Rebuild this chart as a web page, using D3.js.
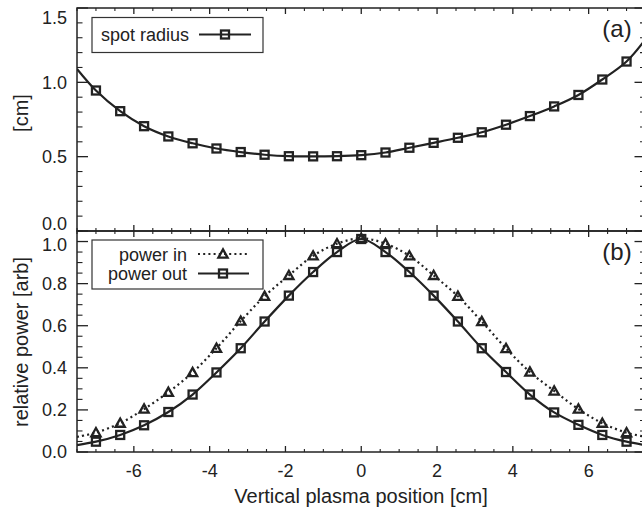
<!DOCTYPE html>
<html>
<head>
<meta charset="utf-8">
<script src="https://cdn.jsdelivr.net/npm/d3@7"></script>
<style>
  html, body { margin: 0; padding: 0; background: #fff; }
  svg { display: block; }
  text { font-family: "Liberation Sans", Arial, Helvetica, sans-serif; fill: #222; }
</style>
</head>
<body>
<svg id="chart" width="642" height="510"></svg>
<script>
// ---------------- data ----------------
const positions = [-7.00, -6.36, -5.73, -5.09, -4.45, -3.82, -3.18, -2.55, -1.91, -1.27, -0.64, 0.00,
                   0.64, 1.27, 1.91, 2.55, 3.18, 3.82, 4.45, 5.09, 5.73, 6.36, 7.00];
const spotRadius = [0.945, 0.806, 0.705, 0.636, 0.590, 0.555, 0.531, 0.513, 0.503, 0.502, 0.503, 0.510,
                    0.528, 0.560, 0.593, 0.627, 0.664, 0.715, 0.773, 0.838, 0.915, 1.019, 1.140];
const powerIn  = [0.092, 0.137, 0.204, 0.284, 0.378, 0.493, 0.622, 0.740, 0.839, 0.932, 0.990, 1.015,
                  0.990, 0.932, 0.839, 0.740, 0.620, 0.492, 0.380, 0.290, 0.204, 0.137, 0.092];
const powerOut = [0.049, 0.081, 0.127, 0.190, 0.273, 0.378, 0.493, 0.620, 0.743, 0.855, 0.950, 1.012,
                  0.950, 0.855, 0.743, 0.620, 0.493, 0.380, 0.273, 0.188, 0.129, 0.081, 0.049];
// curve values where the fitted lines meet the plot edges (x = -7.5 and 7.5)
const edgeX = [-7.5, 7.5];
const spotEdge = [1.09, 1.29];
const powerInEdge = [0.072, 0.072];
const powerOutEdge = [0.033, 0.033];

const xTicks = [-6, -4, -2, 0, 2, 4, 6];
const xTickLabels = ["-6", "-4", "-2", "0", "2", "4", "6"];
const topYTicks = [0, 0.5, 1.0, 1.5];
const topYLabels = ["0.0", "0.5", "1.0", "1.5"];
const botYTicks = [0, 0.2, 0.4, 0.6, 0.8, 1.0];
const botYLabels = ["0.0", "0.2", "0.4", "0.6", "0.8", "1.0"];

// ---------------- layout ----------------
const svg = d3.select("#chart");
const ink = "#222";
const L = 77, R = 645.5;
const topPanel = {top: 8, bottom: 231};
const botPanel = {top: 231, bottom: 452};

const x = d3.scaleLinear().domain([-7.5, 7.5]).range([L, R]);
const yTop = d3.scaleLinear().domain([0, 1.5]).range([topPanel.bottom, topPanel.top]);
const yBot = d3.scaleLinear().domain([0, 1.05]).range([botPanel.bottom, botPanel.top]);

svg.append("rect").attr("width", 642).attr("height", 510).attr("fill", "#fff");

const defs = svg.append("defs");
defs.append("clipPath").attr("id", "clipTop").append("rect")
  .attr("x", L).attr("y", topPanel.top).attr("width", R - L).attr("height", topPanel.bottom - topPanel.top);
defs.append("clipPath").attr("id", "clipBot").append("rect")
  .attr("x", L).attr("y", botPanel.top).attr("width", R - L).attr("height", botPanel.bottom - botPanel.top);

function withEdges(vals, edges) {
  const pts = positions.map((p, i) => [p, vals[i]]);
  return [[edgeX[0], edges[0]], ...pts, [edgeX[1], edges[1]]];
}

const xMinor = d3.range(-7.5, 7.51, 0.5).filter(v => !xTicks.some(t => Math.abs(t - v) < 1e-6));

// draw frame & ticks for a panel
function drawPanel(y, panel, yMajor, yMinorStep, yLabels, showX, labelShift) {
  const g = svg.append("g");
  const xMajLen = 6, xMinLen = 3, yMajLen = 11, yMinLen = 5.5;
  xTicks.forEach(t => {
    g.append("line").attr("x1", x(t)).attr("x2", x(t)).attr("y1", panel.bottom).attr("y2", panel.bottom - xMajLen)
      .attr("stroke", ink).attr("stroke-width", 1.3);
    g.append("line").attr("x1", x(t)).attr("x2", x(t)).attr("y1", panel.top).attr("y2", panel.top + xMajLen)
      .attr("stroke", ink).attr("stroke-width", 1.3);
  });
  xMinor.forEach(t => {
    g.append("line").attr("x1", x(t)).attr("x2", x(t)).attr("y1", panel.bottom).attr("y2", panel.bottom - xMinLen)
      .attr("stroke", ink).attr("stroke-width", 1.1);
    g.append("line").attr("x1", x(t)).attr("x2", x(t)).attr("y1", panel.top).attr("y2", panel.top + xMinLen)
      .attr("stroke", ink).attr("stroke-width", 1.1);
  });
  const [d0, d1] = y.domain();
  const minors = d3.range(d0, d1 + 1e-6, yMinorStep).filter(v => !yMajor.some(t => Math.abs(t - v) < 1e-6));
  yMajor.forEach(t => {
    g.append("line").attr("x1", L).attr("x2", L + yMajLen).attr("y1", y(t)).attr("y2", y(t))
      .attr("stroke", ink).attr("stroke-width", 1.3);
    g.append("line").attr("x1", R).attr("x2", R - yMajLen).attr("y1", y(t)).attr("y2", y(t))
      .attr("stroke", ink).attr("stroke-width", 1.3);
  });
  minors.forEach(t => {
    g.append("line").attr("x1", L).attr("x2", L + yMinLen).attr("y1", y(t)).attr("y2", y(t))
      .attr("stroke", ink).attr("stroke-width", 1.1);
    g.append("line").attr("x1", R).attr("x2", R - yMinLen).attr("y1", y(t)).attr("y2", y(t))
      .attr("stroke", ink).attr("stroke-width", 1.1);
  });
  g.append("rect").attr("x", L).attr("y", panel.top).attr("width", R - L).attr("height", panel.bottom - panel.top)
    .attr("fill", "none").attr("stroke", ink).attr("stroke-width", 1.5);
  yMajor.forEach((t, i) => {
    g.append("text").attr("x", 67).attr("y", y(t) + (labelShift[i] || 0)).attr("dy", "0.36em")
      .attr("text-anchor", "end").style("font-size", "18px").text(yLabels[i]);
  });
  if (showX) {
    xTicks.forEach((t, i) => {
      g.append("text").attr("x", x(t)).attr("y", 477).attr("text-anchor", "middle")
        .style("font-size", "18px").text(xTickLabels[i]);
    });
  }
}

drawPanel(yTop, topPanel, topYTicks, 0.1, topYLabels, false, [-7, 0, 0, 10]);
drawPanel(yBot, botPanel, botYTicks, 0.05, botYLabels, true, [0, 0, 0, 0, 0, 2.5]);

// ---------------- marks ----------------
const sqSize = 8;
function squares(g, xs, ys) {
  g.selectAll(null).data(xs).enter().append("rect")
    .attr("x", (d, i) => xs[i] - sqSize / 2).attr("y", (d, i) => ys[i] - sqSize / 2)
    .attr("width", sqSize).attr("height", sqSize)
    .attr("fill", "none").attr("stroke", ink).attr("stroke-width", 2.3);
}
const triPath = "M-4.6,3.6L0,-4.6L4.6,3.6Z";
function triangles(g, xs, ys) {
  g.selectAll(null).data(xs).enter().append("path")
    .attr("d", triPath).attr("transform", (d, i) => `translate(${xs[i]},${ys[i]})`)
    .attr("fill", "none").attr("stroke", ink).attr("stroke-width", 2.3).attr("stroke-linejoin", "miter");
}

const gTop = svg.append("g").attr("clip-path", "url(#clipTop)");
const lineTop = d3.line().x(d => x(d[0])).y(d => yTop(d[1])).curve(d3.curveCatmullRom.alpha(0.5));
gTop.append("path").attr("d", lineTop(withEdges(spotRadius, spotEdge)))
  .attr("fill", "none").attr("stroke", ink).attr("stroke-width", 2.2);
squares(gTop, positions.map(p => x(p)), spotRadius.map(v => yTop(v)));

const gBot = svg.append("g").attr("clip-path", "url(#clipBot)");
const lineBot = d3.line().x(d => x(d[0])).y(d => yBot(d[1])).curve(d3.curveCatmullRom.alpha(0.5));
gBot.append("path").attr("d", lineBot(withEdges(powerIn, powerInEdge)))
  .attr("fill", "none").attr("stroke", ink).attr("stroke-width", 2.2).attr("stroke-dasharray", "2,3.2");
gBot.append("path").attr("d", lineBot(withEdges(powerOut, powerOutEdge)))
  .attr("fill", "none").attr("stroke", ink).attr("stroke-width", 2.2);
triangles(gBot, positions.map(p => x(p)), powerIn.map(v => yBot(v)));
squares(gBot, positions.map(p => x(p)), powerOut.map(v => yBot(v)));

// ---------------- legends ----------------
const lg1 = svg.append("g");
lg1.append("rect").attr("x", 92).attr("y", 17.5).attr("width", 171).attr("height", 35)
  .attr("fill", "#fff").attr("stroke", "#333").attr("stroke-width", 1.2);
lg1.append("text").attr("x", 101).attr("y", 40.5).style("font-size", "18px").text("spot radius");
lg1.append("line").attr("x1", 199).attr("x2", 251).attr("y1", 34.5).attr("y2", 34.5)
  .attr("stroke", ink).attr("stroke-width", 2.2);
squares(lg1, [225], [34.5]);

const lg2 = svg.append("g");
lg2.append("rect").attr("x", 92).attr("y", 240).attr("width", 171).attr("height", 49)
  .attr("fill", "#fff").attr("stroke", "#333").attr("stroke-width", 1.2);
lg2.append("text").attr("x", 187).attr("y", 261).attr("text-anchor", "end").style("font-size", "18px").text("power in");
lg2.append("text").attr("x", 187).attr("y", 280).attr("text-anchor", "end").style("font-size", "18px").text("power out");
lg2.append("line").attr("x1", 198).attr("x2", 249).attr("y1", 254).attr("y2", 254)
  .attr("stroke", ink).attr("stroke-width", 2.2).attr("stroke-dasharray", "2,3.2");
triangles(lg2, [223], [254]);
lg2.append("line").attr("x1", 198).attr("x2", 249).attr("y1", 273.5).attr("y2", 273.5)
  .attr("stroke", ink).attr("stroke-width", 2.2);
squares(lg2, [223], [273.5]);

// ---------------- panel tags & titles ----------------
svg.append("text").attr("x", 617).attr("y", 37).attr("text-anchor", "middle").style("font-size", "24px").text("(a)");
svg.append("text").attr("x", 617).attr("y", 260).attr("text-anchor", "middle").style("font-size", "24px").text("(b)");

svg.append("text").attr("x", 361).attr("y", 503).attr("text-anchor", "middle").style("font-size", "20px")
  .text("Vertical plasma position [cm]");
svg.append("text").attr("transform", "translate(28,113) rotate(-90)").attr("text-anchor", "middle")
  .style("font-size", "20px").text("[cm]");
svg.append("text").attr("transform", "translate(28,342) rotate(-90)").attr("text-anchor", "middle")
  .style("font-size", "20px").text("relative power [arb]");
</script>
</body>
</html>
